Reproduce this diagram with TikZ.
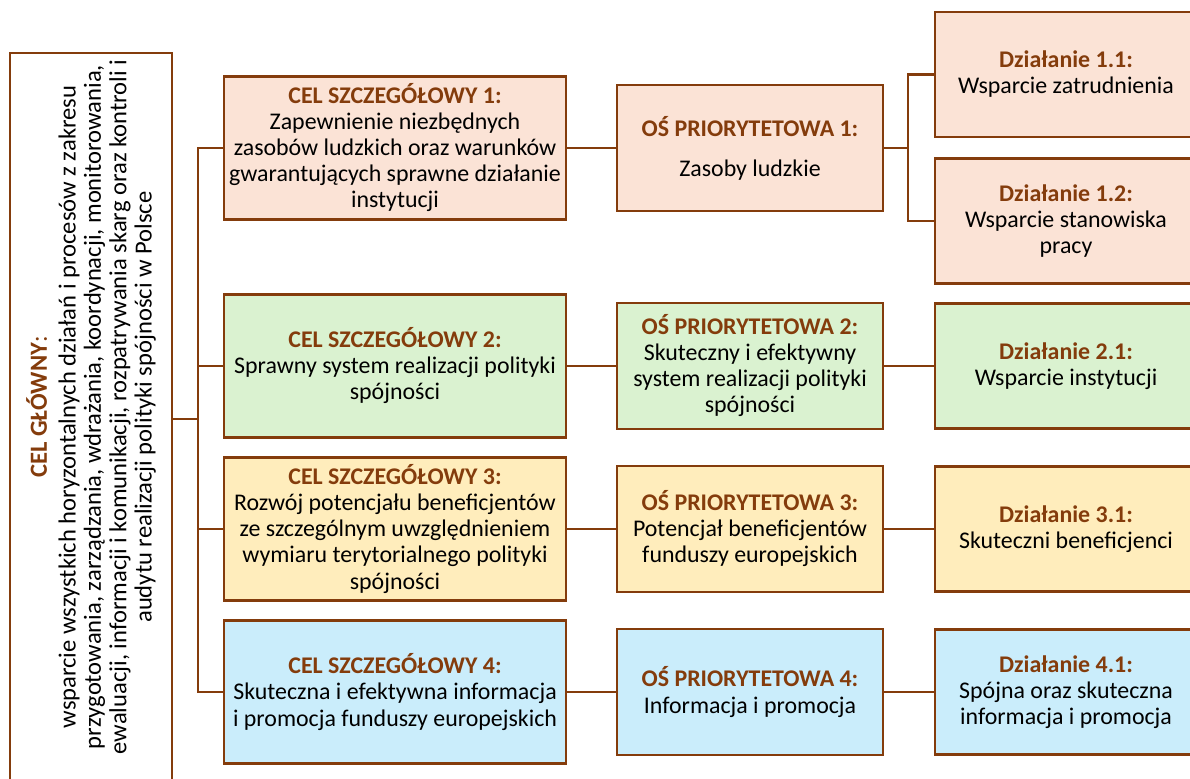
\documentclass[tikz,border=0pt]{standalone}
\usepackage{fontspec}
\setmainfont{Carlito}
\usepackage{tikz}
\definecolor{brd}{HTML}{843C0C}
\definecolor{peach}{HTML}{FBE3D6}
\definecolor{zielony}{HTML}{DAF2D0}
\definecolor{zolty}{HTML}{FFEDBC}
\definecolor{niebieski}{HTML}{CAEDFB}
\tikzset{
  box/.style={draw=brd, line width=1.3pt, align=center, inner sep=1pt,
    font=\fontsize{13.6}{14.8}\selectfont},
  celbox/.style={box, minimum width=6.84cm, minimum height=2.86cm},
  osbox/.style={box, minimum width=5.32cm, minimum height=2.52cm},
  dzbox/.style={box, minimum width=5.24cm, minimum height=2.5cm},
  link/.style={draw=brd, line width=1.3pt}
}
\newcommand{\hdr}[1]{\textcolor{brd}{\textbf{#1}}}

\begin{document}
\begin{tikzpicture}[x=0.02cm, y=-0.02cm]
\useasboundingbox (0,0) rectangle (1190,778);

% cel glowny
\node[box, minimum width=3.24cm, minimum height=14.64cm] (glowny) at (91,419) {};
\node[rotate=90, align=center, font=\fontsize{14}{14.4}\selectfont] (glownytxt) at (91,407)
  {\textcolor{brd}{\textbf{CEL GŁÓWNY}:}\\[2pt]
   wsparcie wszystkich horyzontalnych działań i procesów z zakresu\\
   przygotowania, zarządzania, wdrażania, koordynacji, monitorowania,\\
   ewaluacji, informacji i komunikacji, rozpatrywania skarg oraz kontroli i\\
   audytu realizacji polityki spójności w Polsce};

% cele szczegolowe
\node[celbox, fill=peach] (cel1) at (395,148) {\hdr{CEL SZCZEGÓŁOWY 1:}\\Zapewnienie niezbędnych\\zasobów ludzkich oraz warunków\\gwarantujących sprawne działanie\\instytucji};
\node[celbox, fill=zielony] (cel2) at (395,366) {\hdr{CEL SZCZEGÓŁOWY 2:}\\Sprawny system realizacji polityki\\spójności};
\node[celbox, fill=zolty] (cel3) at (395,529) {\hdr{CEL SZCZEGÓŁOWY 3:}\\Rozwój potencjału beneficjentów\\ze szczególnym uwzględnieniem\\wymiaru terytorialnego polityki\\spójności};
\node[celbox, fill=niebieski] (cel4) at (395,692) {\hdr{CEL SZCZEGÓŁOWY 4:}\\Skuteczna i efektywna informacja\\i promocja funduszy europejskich};

% osie priorytetowe
\node[osbox, fill=peach] (os1) at (750,148) {\hdr{OŚ PRIORYTETOWA 1:}\\[8pt]Zasoby ludzkie};
\node[osbox, fill=zielony] (os2) at (750,366) {\hdr{OŚ PRIORYTETOWA 2:}\\Skuteczny i efektywny\\system realizacji polityki\\spójności};
\node[osbox, fill=zolty] (os3) at (750,529) {\hdr{OŚ PRIORYTETOWA 3:}\\Potencjał beneficjentów\\funduszy europejskich};
\node[osbox, fill=niebieski] (os4) at (750,692) {\hdr{OŚ PRIORYTETOWA 4:}\\Informacja i promocja};

% dzialania
\node[dzbox, fill=peach] (dz11) at (1066,74.5) {\hdr{Działanie 1.1:}\\Wsparcie zatrudnienia};
\node[dzbox, fill=peach] (dz12) at (1066,221) {\hdr{Działanie 1.2:}\\Wsparcie stanowiska\\pracy};
\node[dzbox, fill=zielony] (dz2) at (1066,366) {\hdr{Działanie 2.1:}\\Wsparcie instytucji};
\node[dzbox, fill=zolty] (dz3) at (1066,529) {\hdr{Działanie 3.1:}\\Skuteczni beneficjenci};
\node[dzbox, fill=niebieski] (dz4) at (1066,692) {\hdr{Działanie 4.1:}\\Spójna oraz skuteczna\\informacja i promocja};

% polaczenia
\coordinate (spine) at (198,419);
\coordinate (j1) at (908,148);
\draw[link] (glowny.east) -- (spine);
\foreach \i in {1,...,4} {
  \draw[link] (cel\i.west) -| (spine);
  \draw[link] (cel\i.east) -- (os\i.west);
}
\draw[link] (os1.east) -- (j1);
\draw[link] (dz11.west) -| (j1);
\draw[link] (dz12.west) -| (j1);
\foreach \i in {2,3,4}
  \draw[link] (os\i.east) -- (dz\i.west);
\end{tikzpicture}
\end{document}
